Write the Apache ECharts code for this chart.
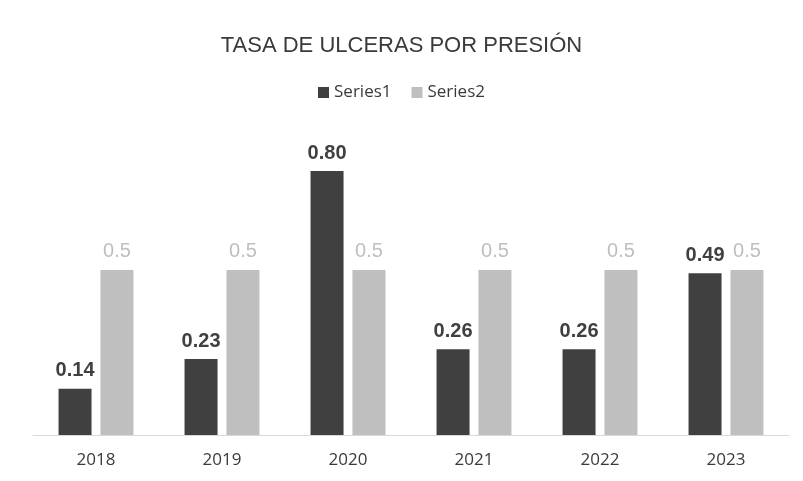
<!DOCTYPE html>
<html>
<head>
<meta charset="utf-8">
<script src="https://cdn.jsdelivr.net/npm/echarts@6/dist/echarts.min.js"></script>
<style>
  html, body { margin: 0; padding: 0; background: #fff; }
  #chart { width: 803px; height: 481px; }
</style>
</head>
<body>
<div id="chart"></div>
<script>
const years = ["2018", "2019", "2020", "2021", "2022", "2023"];
const series1 = [0.14, 0.23, 0.80, 0.26, 0.26, 0.49];
const series2 = [0.5, 0.5, 0.5, 0.5, 0.5, 0.5];

const chart = echarts.init(document.getElementById("chart"));
chart.setOption({
  animation: false,
  title: {
    text: "TASA DE ULCERAS POR PRESIÓN",
    left: "center",
    top: 30,
    textStyle: {
      fontFamily: "Liberation Sans",
      fontSize: 22,
      fontWeight: "normal",
      color: "#3a3a3a",
    },
  },
  legend: {
    top: 79,
    left: "center",
    itemWidth: 11,
    itemHeight: 11,
    itemGap: 20,
    icon: "rect",
    textStyle: {
      fontFamily: "Open Sans",
      fontSize: 17,
      color: "#3a3a3a",
      padding: [0, 0, 0, 0],
    },
    data: ["Series1", "Series2"],
  },
  grid: {
    left: 33,
    right: 14,
    top: 105,
    bottom: 46,
  },
  xAxis: {
    type: "category",
    data: years,
    axisTick: { show: false },
    axisLine: { lineStyle: { color: "#d9d9d9" } },
    axisLabel: {
      fontFamily: "Open Sans",
      fontSize: 17,
      color: "#3a3a3a",
      margin: 17,
    },
  },
  yAxis: {
    type: "value",
    min: 0,
    max: 1,
    show: false,
    splitLine: { show: false },
  },
  series: [
    {
      name: "Series1",
      type: "bar",
      data: series1,
      barWidth: 33,
      barGap: "27%",
      itemStyle: { color: "#404040" },
      label: {
        show: true,
        position: "top",
        distance: 8,
        formatter: (p) => p.value.toFixed(2),
        fontFamily: "Liberation Sans",
        fontSize: 20,
        fontWeight: "bold",
        color: "#404040",
      },
    },
    {
      name: "Series2",
      type: "bar",
      data: series2,
      barWidth: 33,
      itemStyle: { color: "#bfbfbf" },
      label: {
        show: true,
        position: "top",
        distance: 9,
        formatter: (p) => String(p.value),
        fontFamily: "Liberation Sans",
        fontSize: 20,
        color: "#bfbfbf",
      },
    },
  ],
});
</script>
</body>
</html>
